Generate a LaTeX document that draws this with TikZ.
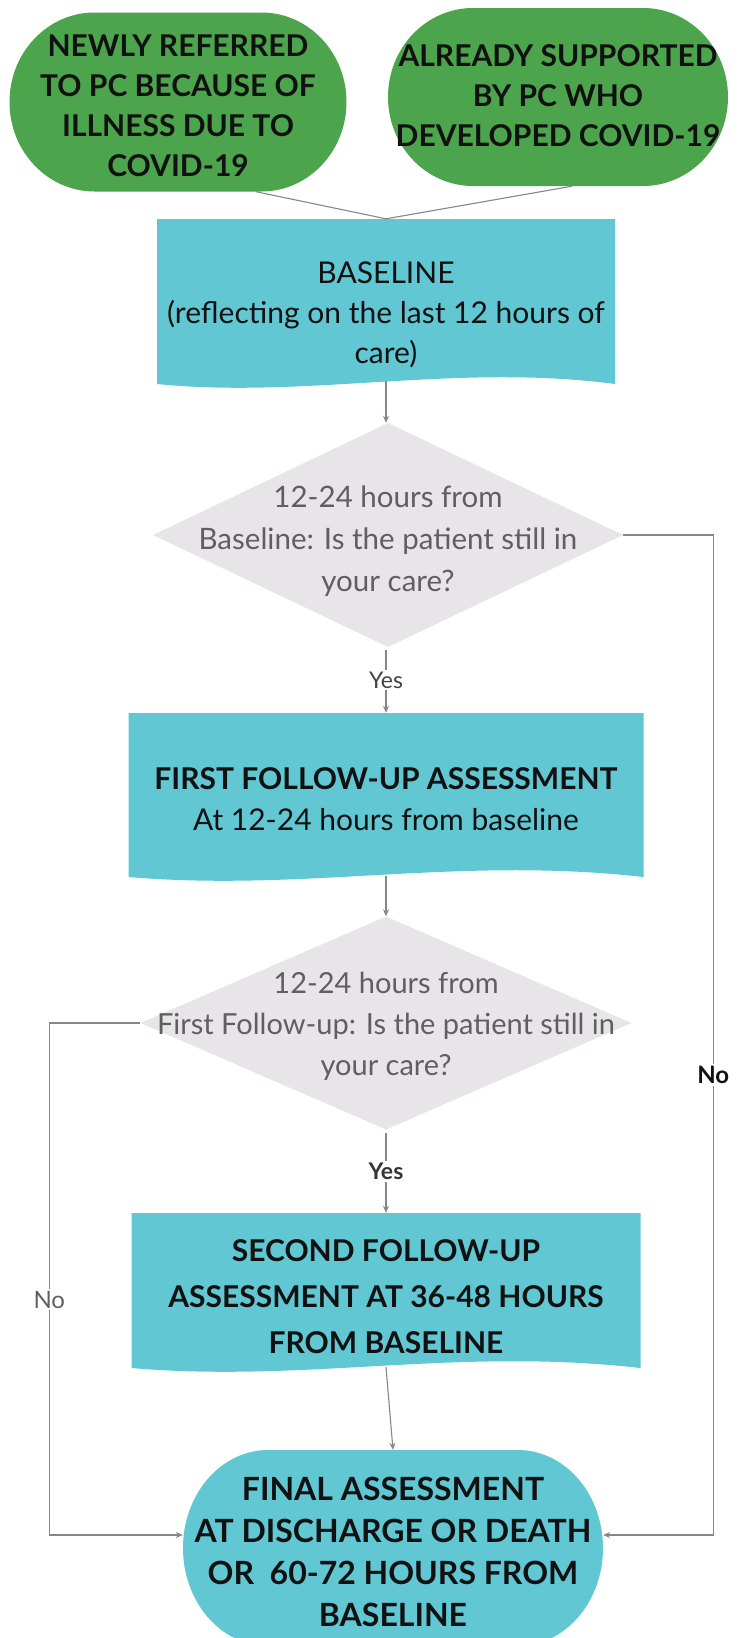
\documentclass[tikz,border=0pt]{standalone}
\usepackage{fontspec}
\setmainfont{Lato}
\usetikzlibrary{shapes.geometric,arrows.meta,calc}
\definecolor{gfill}{RGB}{76,164,76}
\definecolor{tfill}{RGB}{97,199,211}
\definecolor{dfill}{RGB}{231,229,231}
\definecolor{lcol}{RGB}{135,135,135}
\definecolor{dtext}{RGB}{95,95,95}
\definecolor{btext}{RGB}{17,17,17}
\newcommand\mlt[2]{\makebox[0pt]{\raisebox{#1}[0pt][0pt]{\begin{tabular}[c]{@{}c@{}}#2\end{tabular}}}}
\begin{document}
\begin{tikzpicture}[x=1pt,y=1pt,
  ovalfill/.style={path picture={
      \fill[#1] let \p1=(path picture bounding box.south west), \p2=(path picture bounding box.north east) in
        (\x1+85pt,\y2) -- (\x2-85pt,\y2)
        arc[start angle=90,end angle=-90,x radius=85pt,y radius={(\y2-\y1)/2}]
        -- (\x1+85pt,\y1)
        arc[start angle=270,end angle=90,x radius=85pt,y radius={(\y2-\y1)/2}] -- cycle;}},
  greenbox/.style={rectangle, inner sep=0pt, ovalfill=gfill,
    text=btext, font=\fontsize{30}{40}\selectfont\bfseries},
  docbox/.style={rectangle, inner sep=0pt, text=btext,
    path picture={
      \fill[tfill] (path picture bounding box.north west) -- (path picture bounding box.north east)
        -- ([yshift=5pt]path picture bounding box.south east)
        .. controls ($(path picture bounding box.south)+(70pt,26pt)$) and ($(path picture bounding box.south)+(-80pt,-10pt)$)
        .. ([yshift=5pt]path picture bounding box.south west) -- cycle;}},
  decision/.style={diamond, fill=dfill, inner sep=0pt, text=dtext},
  finalbox/.style={rectangle, inner sep=0pt, ovalfill=tfill,
    text=btext, font=\fontsize{32}{42}\selectfont\bfseries},
  conn/.style={draw=lcol, line width=1.1pt},
  arr/.style={conn, -{Stealth[length=7pt,width=6pt]}},
  lab/.style={fill=white, inner sep=2pt}
]
\useasboundingbox (0,0) rectangle (737,-1638);
\clip (0,0) rectangle (737,-1638);
\fill[white] (0,0) rectangle (737,-1638);

\node[greenbox, minimum width=337pt, minimum height=179pt] (g1) at (178,-102)
  {\mlt{-12.5pt}{NEWLY REFERRED\\TO PC BECAUSE OF\\ILLNESS DUE TO\\COVID-19}};
\node[greenbox, minimum width=340pt, minimum height=178pt] (g2) at (558,-97)
  {\mlt{-7.5pt}{ALREADY SUPPORTED\\BY PC WHO\\DEVELOPED COVID-19}};

\node[docbox, minimum width=458pt, minimum height=170pt, font=\fontsize{30}{40}\selectfont] (base) at (386,-304)
  {\mlt{-18pt}{BASELINE\\(reflecting on the last 12 hours of\\care)}};

\node[decision, aspect=2.098, minimum width=470pt, minimum height=224pt, font=\fontsize{29.5}{42}\selectfont] (d1) at (388,-535)
  {\mlt{-12pt}{12-24 hours from\\Baseline: Is the patient still in\\your care?}};

\node[docbox, minimum width=515pt, minimum height=169pt, font=\fontsize{30}{41}\selectfont] (ff) at (386,-797.5)
  {\mlt{-10.5pt}{\textbf{FIRST FOLLOW-UP ASSESSMENT}\\At 12-24 hours from baseline}};

\node[decision, aspect=2.305, minimum width=491pt, minimum height=213pt, font=\fontsize{29}{41}\selectfont] (d2) at (386,-1023)
  {\mlt{-9.5pt}{12-24 hours from\\First Follow-up: Is the patient still in\\your care?}};

\node[docbox, minimum width=509pt, minimum height=160pt, font=\fontsize{30}{46}\selectfont\bfseries] (sf) at (386,-1293)
  {\mlt{-12pt}{SECOND FOLLOW-UP\\ASSESSMENT AT 36-48 HOURS\\FROM BASELINE}};

\node[finalbox, minimum width=420pt, minimum height=196pt] (fin) at (393,-1548)
  {\mlt{-13pt}{FINAL ASSESSMENT\\AT DISCHARGE OR DEATH\\OR\ \ 60-72 HOURS FROM\\BASELINE}};

% connectors
\draw[conn] ([xshift=78pt]g1.south) -- (base.north);
\draw[conn] ([xshift=14pt]g2.south) -- (base.north);
\draw[arr] ([yshift=8pt]base.south) -- (base.south |- d1.north);
\draw[arr, shorten <=3pt] (d1.south -| ff.north) -- node[lab, text=dtext!70!black, font=\fontsize{23}{26}\selectfont] {Yes} (ff.north);
\draw[arr] ([yshift=6pt]ff.south) -- (d2.north);
\draw[arr, shorten <=3pt] (d2.south) -- node[lab, text=btext!85, font=\fontsize{23}{26}\selectfont\bfseries] {Yes} (sf.north);
\draw[arr] ([yshift=6pt]sf.south) -- (fin.north);
\draw[arr] (d1.east) -- ++(90,0) |- node[pos=0.27, lab, text=btext, font=\fontsize{24}{26}\selectfont\bfseries] {No} ([yshift=13pt]fin.east);
\draw[arr] (d2.west) -- ++(-91,0) |- node[pos=0.27, lab, text=dtext, font=\fontsize{24}{26}\selectfont] {No} ([yshift=13pt]fin.west);
\end{tikzpicture}
\end{document}
